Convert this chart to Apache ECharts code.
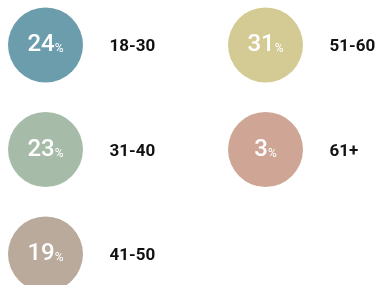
<!DOCTYPE html>
<html>
<head>
<meta charset="utf-8">
<script src="https://cdn.jsdelivr.net/npm/echarts@6/dist/echarts.min.js"></script>
<style>
  html, body { margin: 0; padding: 0; background: #fff; }
  #chart { width: 380px; height: 285px; }
</style>
</head>
<body>
<div id="chart"></div>
<script>
  const ageGroups = ['18-30', '31-40', '41-50', '51-60', '61+'];
  const shares = [24, 23, 19, 31, 3];
  const colors = ['#6b9dac', '#a6bca8', '#b9aa9b', '#d4cb94', '#cfa695'];

  const rows = 3;
  const fontFamily = 'Roboto, "DejaVu Sans", sans-serif';

  // column / row come from the index: 3 groups per column
  const bubbles = shares.map((v, i) => ({
    value: [Math.floor(i / rows), i % rows, v],
    itemStyle: {color: colors[i]}
  }));
  const names = ageGroups.map((name, i) => ({
    value: [Math.floor(i / rows), i % rows],
    name: name
  }));

  const chart = echarts.init(document.getElementById('chart'));

  chart.setOption({
    animation: false,
    grid: {
      left: 45.5,
      right: 114.5,
      top: 45,
      bottom: 31
    },
    xAxis: {
      type: 'value',
      min: 0,
      max: 1,
      show: false
    },
    yAxis: {
      type: 'value',
      min: 0,
      max: rows - 1,
      inverse: true,
      show: false
    },
    series: [{
      type: 'scatter',
      symbolSize: 75,
      data: bubbles,
      itemStyle: {opacity: 1},
      emphasis: {disabled: true},
      label: {
        show: true,
        position: 'inside',
        formatter: p => '{num|' + p.value[2] + '}{pct|%}',
        rich: {
          num: {
            color: '#fff',
            fontSize: 24,
            fontFamily: fontFamily,
            fontWeight: 500
          },
          pct: {
            color: '#fff',
            fontSize: 12,
            fontFamily: fontFamily,
            padding: [8, 0, 0, 0]
          }
        }
      }
    }, {
      type: 'scatter',
      symbolSize: 0,
      data: names,
      itemStyle: {opacity: 1},
      emphasis: {disabled: true},
      label: {
        show: true,
        position: 'right',
        distance: 64,
        formatter: p => p.name,
        color: '#111',
        fontSize: 17,
        fontWeight: 'bold',
        fontFamily: fontFamily,
        offset: [0, 2]
      }
    }]
  });
</script>
</body>
</html>
